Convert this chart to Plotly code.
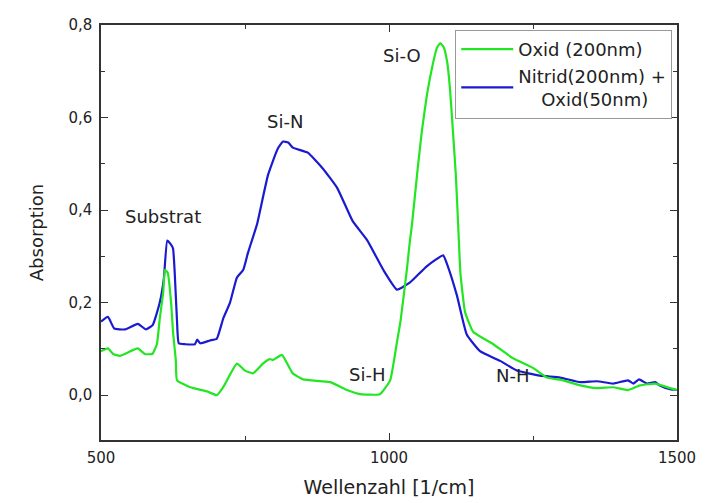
import plotly.graph_objects as go

# Oxid (200nm) - green
oxid_x = [500, 512, 521, 533, 564, 576, 589, 597, 602, 608, 611, 616, 622, 625, 630, 632,
          655, 684, 701, 712, 736, 750, 764, 781, 793, 799, 814, 833, 851, 898, 927, 950,
          984, 1002, 1014, 1020, 1031, 1036, 1040, 1049, 1057, 1066, 1076, 1083, 1089, 1095,
          1101, 1106, 1111, 1116, 1120, 1124, 1132, 1146, 1181, 1215, 1250, 1274, 1302, 1332,
          1361, 1389, 1415, 1436, 1462, 1488, 1500]
oxid_y = [0.095, 0.101, 0.089, 0.085, 0.101, 0.089, 0.089, 0.110, 0.165, 0.222, 0.271, 0.264,
          0.195, 0.137, 0.074, 0.032, 0.017, 0.008, 0.000, 0.017, 0.068, 0.053, 0.047, 0.068,
          0.078, 0.076, 0.087, 0.047, 0.034, 0.028, 0.011, 0.002, 0.002, 0.032, 0.116, 0.160,
          0.271, 0.330, 0.370, 0.480, 0.570, 0.650, 0.715, 0.750, 0.761, 0.752, 0.720, 0.660,
          0.570, 0.476, 0.370, 0.264, 0.180, 0.137, 0.110, 0.080, 0.059, 0.038, 0.032, 0.021,
          0.015, 0.017, 0.011, 0.021, 0.025, 0.015, 0.011]

# Nitrid(200nm) + Oxid(50nm) - blue
nitrid_x = [500, 512, 523, 542, 564, 578, 590, 602, 609, 615, 620, 625, 628, 632, 635, 646,
            663, 667, 672, 689, 701, 712, 724, 736, 747, 755, 764, 771, 790, 807, 816, 825,
            833, 859, 885, 910, 937, 962, 990, 1014, 1036, 1066, 1094, 1102, 1118, 1135, 1158,
            1193, 1222, 1262, 1297, 1332, 1361, 1389, 1415, 1424, 1434, 1448, 1462, 1470, 1488,
            1500]
nitrid_y = [0.159, 0.169, 0.144, 0.142, 0.154, 0.142, 0.152, 0.200, 0.250, 0.334, 0.328, 0.317,
            0.264, 0.159, 0.112, 0.110, 0.110, 0.120, 0.112, 0.118, 0.122, 0.165, 0.200, 0.254,
            0.271, 0.307, 0.342, 0.370, 0.476, 0.533, 0.548, 0.546, 0.535, 0.524, 0.490, 0.448,
            0.376, 0.335, 0.271, 0.228, 0.243, 0.279, 0.302, 0.279, 0.215, 0.131, 0.095, 0.074,
            0.053, 0.042, 0.038, 0.028, 0.030, 0.025, 0.032, 0.025, 0.034, 0.025, 0.028, 0.021,
            0.013, 0.011]

labels_text = ["Si-O", "Si-N", "Substrat", "Si-H", "N-H"]
labels_x = [1022, 819, 608, 962, 1215]
labels_y = [0.734, 0.592, 0.387, 0.044, 0.042]

GREEN = "#22e622"
BLUE = "#1a1ad0"
FONT = "DejaVu Sans, Liberation Sans, Arial, sans-serif"
TXT = "#222222"

fig = go.Figure()
fig.add_trace(go.Scatter(x=nitrid_x, y=nitrid_y, mode="lines",
                         name="Nitrid(200nm) +<br>\u00a0\u00a0\u00a0\u00a0Oxid(50nm)",
                         line=dict(color=BLUE, width=2.2, shape="spline", smoothing=0.4),
                         legendrank=2))
fig.add_trace(go.Scatter(x=oxid_x, y=oxid_y, mode="lines", name="Oxid (200nm)",
                         line=dict(color=GREEN, width=2.2, shape="spline", smoothing=0.4),
                         legendrank=1))

for t, x, y in zip(labels_text, labels_x, labels_y):
    fig.add_annotation(x=x, y=y, text=t, showarrow=False,
                       font=dict(size=18, color=TXT, family=FONT))

fig.update_layout(
    width=700, height=495,
    margin=dict(l=93, r=31, t=8, b=62),
    paper_bgcolor="white", plot_bgcolor="white",
    separators=",.",
    font=dict(family=FONT, size=15, color=TXT),
    legend=dict(x=0.615, y=0.988, xanchor="left", yanchor="top",
                bordercolor="#999999", borderwidth=1, bgcolor="white",
                font=dict(size=18, family=FONT, color=TXT),
                tracegroupgap=0, itemwidth=52),
    xaxis=dict(range=[500, 1500], dtick=500, tick0=500, showgrid=False, zeroline=False,
               showline=True, linecolor="#333333", linewidth=1.5, mirror="ticks",
               ticks="inside", ticklen=7, tickcolor="#333333", ticklabelstandoff=3,
               minor=dict(dtick=250, ticks="inside", ticklen=4, tickcolor="#333333"),
               tickfont=dict(size=15),
               title=dict(text="Wellenzahl [1/cm]", font=dict(size=19), standoff=15)),
    yaxis=dict(range=[-0.097, 0.8], dtick=0.2, tick0=0, tickformat=".1f", showgrid=False,
               zeroline=False, showline=True, linecolor="#333333", linewidth=1.5,
               mirror="ticks", ticks="inside", ticklen=7, tickcolor="#333333",
               ticklabelstandoff=4,
               minor=dict(dtick=0.1, ticks="inside", ticklen=4, tickcolor="#333333"),
               tickfont=dict(size=15),
               title=dict(text="Absorption", font=dict(size=18), standoff=20)),
)

fig.write_html("out.html")
